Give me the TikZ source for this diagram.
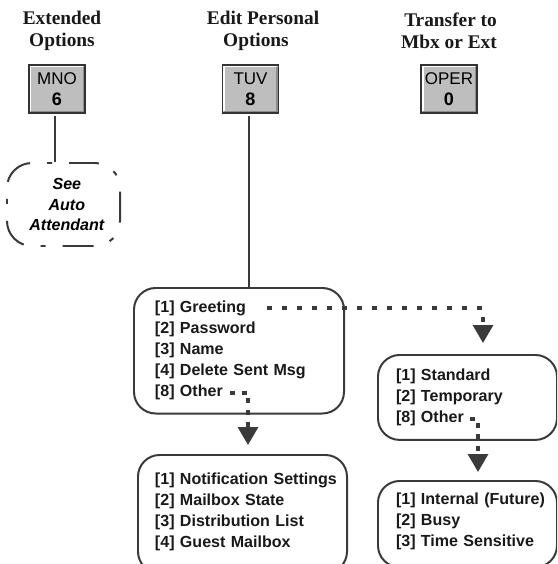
\documentclass[tikz,border=0pt]{standalone}
\usepackage{fontspec}
\setmainfont{Liberation Serif}
\setsansfont{Liberation Sans}
\usetikzlibrary{arrows.meta}
\definecolor{linegray}{HTML}{3A3A3A}
\definecolor{keygray}{HTML}{BEBEBE}
\tikzset{
  heading/.style={font=\fontsize{16.5}{18.8}\selectfont\bfseries,align=center,text=black!90},
  keybox/.style={draw=black!80,line width=1.5pt,fill=keygray,minimum width=1.68cm,minimum height=1.44cm,inner sep=0pt,align=center},
  menubox/.style={draw=linegray,line width=1.7pt,rounded corners=0.65cm,anchor=north west,align=left,inner xsep=0.3cm,
    font=\sffamily\bfseries\fontsize{13.7}{17.9}\selectfont,text=black!90},
  menupad/.style={execute at begin node={\leftskip=#1}},
  seebox/.style={draw=linegray,line width=1.7pt,rounded corners=0.75cm,dash pattern=on 0.93cm off 0.51cm on 0.15cm off 0.51cm,dash phase=0.15cm,
    minimum width=3.39cm,minimum height=2.49cm,inner sep=0pt,align=center,font=\sffamily\bfseries\itshape\fontsize{13.7}{17.9}\selectfont},
  keyline/.style={draw=linegray,line width=2.2pt},
  dotline/.style={draw=linegray,line width=2.8pt,dash pattern=on 0.15cm off 0.3cm,-{Triangle[length=0.54cm,width=0.6cm]}},
  dotshort/.style={dotline,dash pattern=on 0.15cm off 0.2cm},
}
\begin{document}
\begin{tikzpicture}[x=0.03cm,y=-0.03cm]
\useasboundingbox (0,0) rectangle (557,564);
\clip (0,0) rectangle (557,564);
% column titles
\node[heading] (exttitle) at (62,31) {Extended\\Options};
\node[heading] (edittitle) at (263,31) {Edit Personal\\Options\hspace*{0.42cm}};
\node[heading,align=right] (xfertitle) at (449,31) {Transfer to\\Mbx or Ext};
% phone keys
\foreach \x/\i/\l/\d in {57/6/MNO/6,250.5/8/TUV/8,449/0/OPER/0} {
  \node[keybox] (key\i) at (\x,89) {\fontsize{14.5}{18}\selectfont\sffamily \l\\[0.2cm]\fontsize{15.4}{18}\selectfont\sffamily\bfseries \d};
  \draw[white,line width=1.5pt] ([shift={(2.5,-2.5)}]key\i.south west) |- ([shift={(-2.5,2.5)}]key\i.north east);
  \draw[black!45,line width=1.2pt] ([shift={(2.5,-2.5)}]key\i.south west) -| ([shift={(-2.5,2.5)}]key\i.north east);
}
% menus
\node[seebox] (seeaa) at (63.5,204.5) {\hspace*{0.2cm}See\\\hspace*{0.2cm}Auto\\\hspace*{0.2cm}Attendant};
\node[menubox,text width=5.7cm,menupad=0.33cm,inner ysep=0.4cm] (greet) at (133,287) {[1] Greeting\\{}[2] Password\\{}[3] Name\\{}[4] Delete Sent Msg\\{}[8] Other};
\node[menubox,text width=5.67cm,menupad=0.21cm,inner ysep=0.54cm] (notify) at (137,454) {[1] Notification Settings\\{}[2] Mailbox State\\{}[3] Distribution List\\{}[4] Guest Mailbox\\[-0.4cm]\mbox{}};
\node[menubox,text width=4.77cm,menupad=0.24cm,inner ysep=0.42cm] (standard) at (377,354) {[1] Standard\\{}[2] Temporary\\{}[8] Other};
\node[menubox,text width=4.77cm,menupad=0.24cm,inner ysep=0.36cm] (internal) at (377,480) {[1] Internal (Future)\\{}[2] Busy\\{}[3] Time Sensitive\\[-0.37cm]\mbox{}};
% connectors
\coordinate (greetout) at (267,308);
\coordinate (stdin) at (483,343);
\coordinate (otherout) at (230,393);
\coordinate (notifyin) at (248,445);
\coordinate (stdout) at (470,419);
\coordinate (internalin) at (478,472);
\draw[keyline] ([shift={(-2,2)}]key6.south) -- ([xshift=-0.06cm]key6.south |- seeaa.north);
\draw[keyline] ([shift={(-1.5,2)}]key8.south) -- ([xshift=-0.045cm]key8.south |- greet.north);
\draw[dotline] (greetout) -| (stdin);
\draw[dotshort] (otherout) -| (notifyin);
\draw[dotshort] (stdout) -| (internalin);
\end{tikzpicture}
\end{document}
